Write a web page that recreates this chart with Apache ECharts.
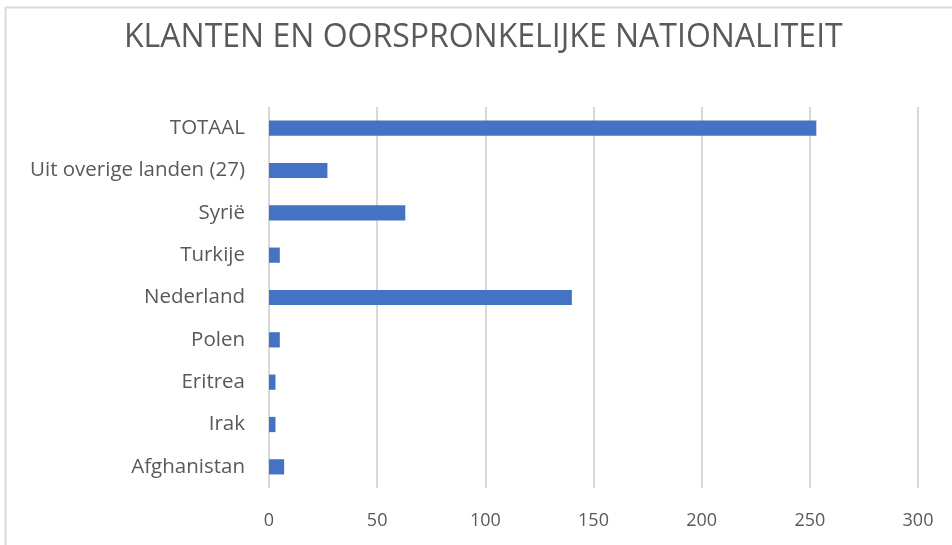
<!DOCTYPE html>
<html>
<head>
<meta charset="utf-8">
<script src="https://cdn.jsdelivr.net/npm/echarts@6/dist/echarts.min.js"></script>
<style>
  html, body { margin: 0; padding: 0; background: #fff; }
  #chart { width: 952px; height: 545px; }
</style>
</head>
<body>
<div id="chart"></div>
<script>
// categories bottom to top, as the y axis draws them
const categories = ['Afghanistan', 'Irak', 'Eritrea', 'Polen', 'Nederland', 'Turkije', 'Syrië', 'Uit overige landen (27)', 'TOTAAL'];
const klanten = [7, 3, 3, 5, 140, 5, 63, 27, 253];
const xTicks = [0, 50, 100, 150, 200, 250, 300];

const labelFont = 'Open Sans';
const labelColor = '#595959';
const lineColor = '#d9d9d9';

const chart = echarts.init(document.getElementById('chart'));
chart.setOption({
  animation: false,
  title: {
    text: 'KLANTEN EN OORSPRONKELIJKE NATIONALITEIT',
    left: 119, // the original title sits slightly right of centre
    top: 17,
    textStyle: {
      color: labelColor,
      fontFamily: labelFont,
      fontWeight: 'normal',
      fontSize: 32
    }
  },
  graphic: [{
    type: 'rect',
    shape: { x: 5.5, y: 7.5, width: 960, height: 560 },
    style: { fill: 'none', stroke: lineColor, lineWidth: 2 },
    silent: true
  }],
  grid: {
    left: 269,
    right: 34,
    top: 107,
    bottom: 57
  },
  xAxis: {
    type: 'value',
    min: xTicks[0],
    max: xTicks[xTicks.length - 1],
    interval: 50,
    axisLine: { show: false },
    axisTick: { show: false },
    axisLabel: {
      color: labelColor,
      fontFamily: labelFont,
      fontSize: 18,
      margin: 24
    },
    splitLine: { lineStyle: { color: lineColor, width: 2 } }
  },
  yAxis: {
    type: 'category',
    data: categories,
    axisLine: { show: false },
    axisTick: { show: false },
    axisLabel: {
      color: labelColor,
      fontFamily: labelFont,
      fontSize: 20.5,
      margin: 24
    }
  },
  series: [{
    name: 'Klanten',
    type: 'bar',
    data: klanten,
    barWidth: '36%',
    itemStyle: { color: '#4472c4' }
  }]
});
</script>
</body>
</html>
